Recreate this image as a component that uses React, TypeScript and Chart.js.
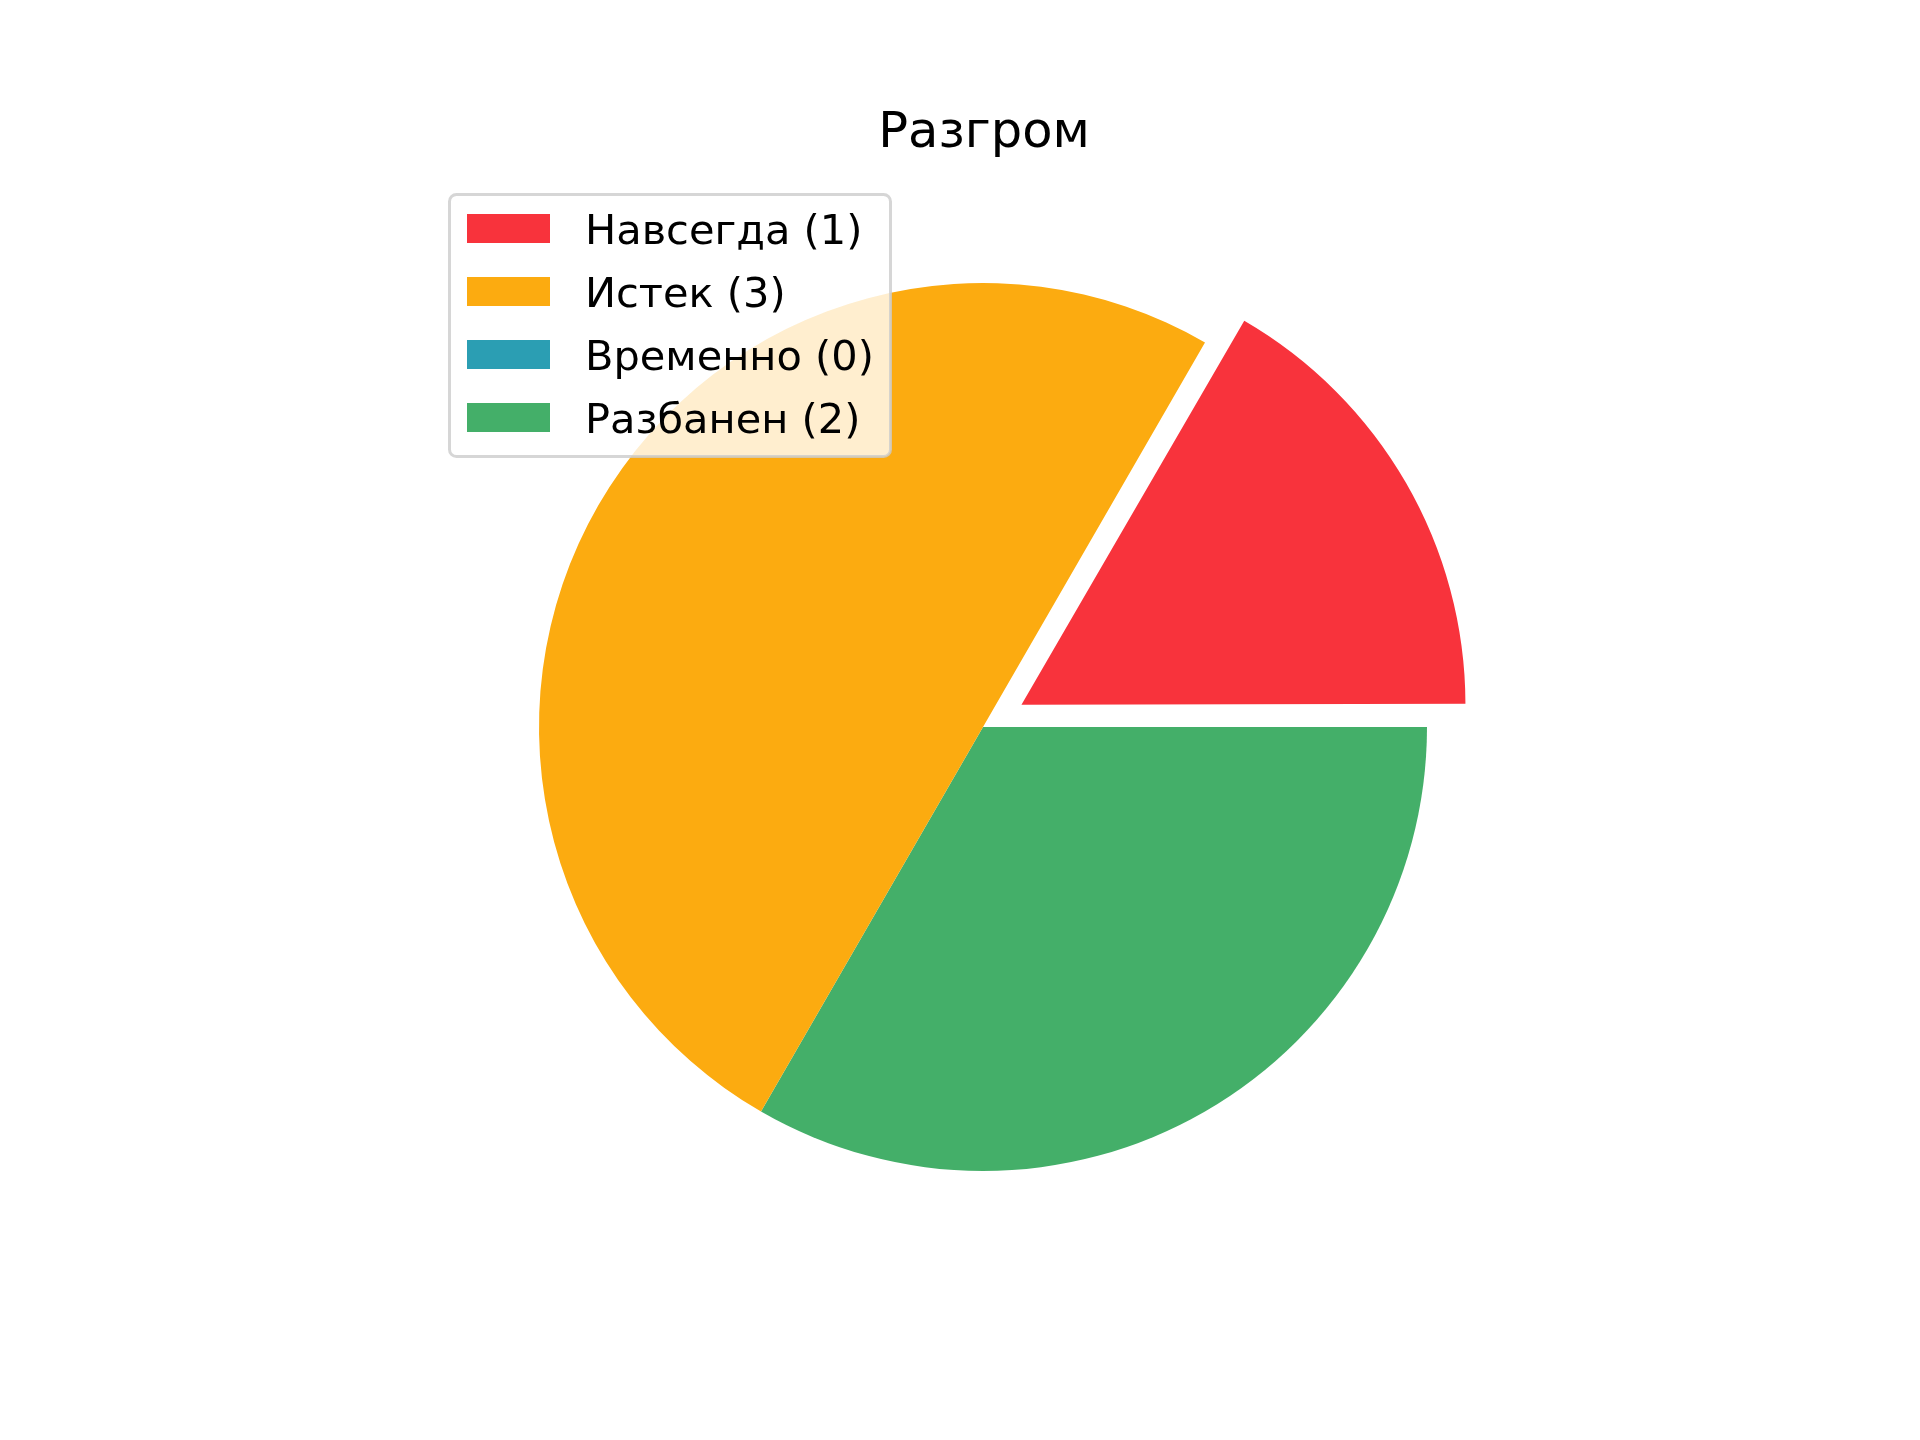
import React, { useEffect, useRef } from 'react';
import { Chart, registerables } from 'chart.js';

Chart.register(...registerables);

const TITLE = 'Разгром';
const categories = ['Навсегда', 'Истек', 'Временно', 'Разбанен'];
const counts = [1, 3, 0, 2];
const colors = ['#F8333C', '#FCAB10', '#2B9EB3', '#44AF69'];
const explode = [0.1, 0, 0, 0];

const W = 1920;
const H = 1440;
const RADIUS = 444;
const CX = 983;
const CY = 727;

export default function App() {
  const ref = useRef<HTMLCanvasElement>(null);

  useEffect(() => {
    const canvas = ref.current;
    if (!canvas) return;

    // matplotlib draws counter-clockwise from 3 o'clock; Chart.js draws clockwise,
    // so feed the slices in reverse order and start at 3 o'clock.
    const order = categories.map((_, i) => categories.length - 1 - i);
    const labels = order.map((i) => `${categories[i]} (${counts[i]})`);
    const data = order.map((i) => counts[i]);
    const bg = order.map((i) => colors[i]);
    // Chart.js translates an arc by offset / 4
    const offsets = order.map((i) => explode[i] * RADIUS * 4);

    const explodeFix = {
      id: 'explodeFix',
      afterDatasetsUpdate(chart: any) {
        const meta = chart.getDatasetMeta(0);
        meta.data.forEach((arc: any, k: number) => {
          const off = offsets[k] / 4;
          const circ = arc.circumference || 0;
          const fix = 1 - Math.sin(Math.min(Math.PI, circ));
          arc.outerRadius = RADIUS - off * fix;
        });
      },
    };

    const overlay = {
      id: 'overlay',
      afterDraw(chart: any) {
        const ctx: CanvasRenderingContext2D = chart.ctx;
        ctx.save();
        // title
        ctx.font = '49.5px "DejaVu Sans"';
        ctx.fillStyle = '#000000';
        ctx.textAlign = 'center';
        ctx.textBaseline = 'alphabetic';
        ctx.fillText(TITLE, 984, 147);

        // legend frame
        ctx.beginPath();
        (ctx as any).roundRect(449.5, 194.5, 441, 262, 7);
        ctx.fillStyle = 'rgba(255,255,255,0.8)';
        ctx.fill();
        ctx.lineWidth = 3;
        ctx.strokeStyle = 'rgba(204,204,204,0.8)';
        ctx.stroke();

        // legend entries
        ctx.font = '41.5px "DejaVu Sans"';
        ctx.textAlign = 'left';
        categories.forEach((cat, i) => {
          const top = 214 + 63 * i;
          ctx.fillStyle = colors[i];
          ctx.fillRect(467, top, 83, 29);
          ctx.fillStyle = '#000000';
          ctx.fillText(`${cat} (${counts[i]})`, 585, 244 + 63 * i);
        });
        ctx.restore();
      },
    };

    const chart = new Chart(canvas, {
      type: 'pie',
      data: {
        labels,
        datasets: [
          {
            data,
            backgroundColor: bg,
            borderWidth: 0,
            offset: offsets,
            hoverOffset: 0,
          },
        ],
      },
      options: {
        responsive: false,
        animation: false,
        rotation: 90,
        radius: RADIUS,
        layout: {
          padding: {
            left: 2 * CX - W > 0 ? 2 * CX - W : 0,
            right: 2 * CX - W < 0 ? W - 2 * CX : 0,
            top: 2 * CY - H > 0 ? 2 * CY - H : 0,
            bottom: 2 * CY - H < 0 ? H - 2 * CY : 0,
          },
        },
        plugins: {
          legend: { display: false },
          title: { display: false },
          tooltip: { enabled: false },
        },
        events: [],
      } as any,
      plugins: [explodeFix, overlay],
    });

    return () => chart.destroy();
  }, []);

  return (
    <div style={{ position: 'absolute', left: 0, top: 0, width: W, height: H, background: '#ffffff' }}>
      <canvas ref={ref} width={W} height={H} style={{ display: 'block', width: W, height: H }} />
    </div>
  );
}
